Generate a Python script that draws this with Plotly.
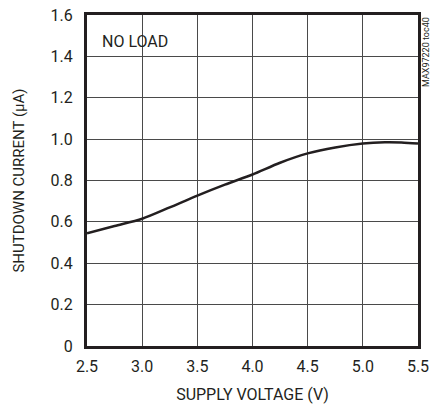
import plotly.graph_objects as go

# supply voltage (V) and shutdown current (uA)
voltage = [2.5, 2.75, 3.0, 3.25, 3.5, 3.75, 4.0, 4.25, 4.5, 4.75, 5.0, 5.2, 5.35, 5.5]
current = [0.545, 0.58, 0.615, 0.67, 0.727, 0.78, 0.829, 0.886, 0.931, 0.96, 0.979, 0.985, 0.984, 0.979]

x_ticks = [2.5, 3.0, 3.5, 4.0, 4.5, 5.0, 5.5]
x_labels = ["2.5", "3.0", "3.5", "4.0", "4.5", "5.0", "5.5"]
y_ticks = [0, 0.2, 0.4, 0.6, 0.8, 1.0, 1.2, 1.4, 1.6]
y_labels = ["0", "0.2", "0.4", "0.6", "0.8", "1.0", "1.2", "1.4", "1.6"]

FONT = "Roboto, Liberation Sans, sans-serif"
INK = "#231f20"

fig = go.Figure()
fig.add_trace(go.Scatter(
    x=voltage, y=current, mode="lines",
    line=dict(color=INK, width=2.5, shape="spline", smoothing=0.8),
    showlegend=False, hoverinfo="skip"
))

axis_common = dict(
    showgrid=True, gridcolor="#4a4a4a", gridwidth=1,
    zeroline=False, showline=True, linecolor=INK, linewidth=3,
    mirror=True, ticks="", automargin=False,
    tickfont=dict(family=FONT, size=16, color=INK),
)

fig.update_xaxes(
    range=[2.5, 5.5], tickvals=x_ticks, ticktext=x_labels,
    ticklabelstandoff=4,
    title=dict(text="SUPPLY VOLTAGE (V)", font=dict(family=FONT, size=16, color=INK), standoff=14),
    **axis_common
)
fig.update_yaxes(
    range=[0, 1.6], tickvals=y_ticks, ticktext=y_labels,
    ticklabelstandoff=8,
    title=dict(text="SHUTDOWN CURRENT (μA)", font=dict(family=FONT, size=15, color=INK), standoff=23),
    **axis_common
)

fig.add_annotation(
    x=0.04, y=0.955, xref="paper", yref="paper", xanchor="left", yanchor="top",
    text="NO LOAD", showarrow=False,
    font=dict(family=FONT, size=16, color=INK)
)
fig.add_annotation(
    x=1.0, y=1.0, xref="paper", yref="paper", xanchor="left", yanchor="top",
    xshift=1, text="MAX97220 toc40", textangle=-90, showarrow=False,
    font=dict(family=FONT, size=9, color=INK)
)

fig.update_layout(
    width=432, height=409,
    margin=dict(l=87, r=14, t=15, b=63),
    plot_bgcolor="white", paper_bgcolor="white",
)

fig.write_html(
    "out.html",
    config={"displayModeBar": False},
    post_script="document.body.style.margin='0';",
)
